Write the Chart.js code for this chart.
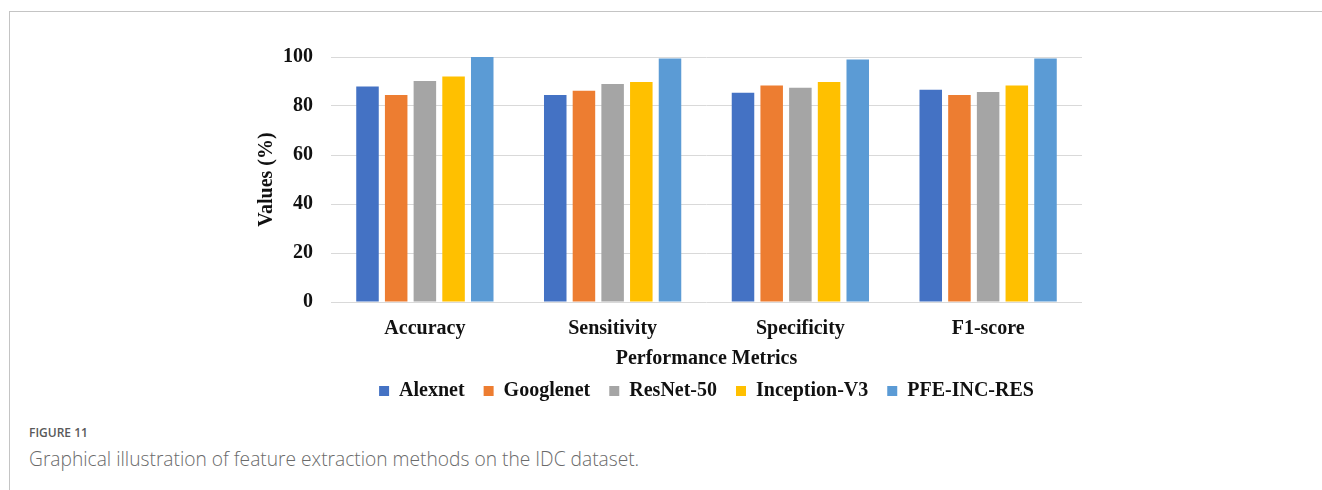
<!DOCTYPE html>
<html>
<head>
<meta charset="utf-8">
<script src="https://cdn.jsdelivr.net/npm/chart.js@4/dist/chart.umd.min.js"></script>
<style>
  html, body { margin: 0; padding: 0; background: #fff; }
  body { width: 1322px; height: 490px; position: relative; overflow: hidden; }
  .frame { position: absolute; left: 9px; top: 11px; right: -2px; bottom: -2px;
           border-top: 1px solid #c4c4c4; border-left: 1px solid #c4c4c4; }
  #chart { position: absolute; left: 0; top: 0; }
  .fig-label { position: absolute; left: 29px; top: 424px; font-family: "Open Sans", sans-serif;
               font-size: 12px; font-weight: 600; color: #595959; }
  .fig-caption { position: absolute; left: 29px; top: 445px; font-family: "Open Sans", sans-serif;
                 font-size: 19.2px; font-weight: 300; color: #6a6a6a; }
</style>
</head>
<body>
<div class="frame"></div>
<canvas id="chart" width="1322" height="420"></canvas>
<div class="fig-label">FIGURE 11</div>
<div class="fig-caption">Graphical illustration of feature extraction methods on the IDC dataset.</div>
<script>
// Performance of feature extraction methods (values in %)
const metrics = ['Accuracy', 'Sensitivity', 'Specificity', 'F1-score'];
const methods = ['Alexnet', 'Googlenet', 'ResNet-50', 'Inception-V3', 'PFE-INC-RES'];
const alexnet    = [88.0, 84.5, 85.4, 86.6];
const googlenet  = [84.5, 86.2, 88.4, 84.5];
const resnet50   = [90.2, 89.0, 87.5, 85.7];
const inception  = [92.0, 89.8, 89.8, 88.4];
const pfeIncRes  = [100.0, 99.4, 99.0, 99.4];
const yTicks = [0, 20, 40, 60, 80, 100];

const seriesValues = [alexnet, googlenet, resnet50, inception, pfeIncRes];
const colors = ['#4472C4', '#ED7D31', '#A5A5A5', '#FFC000', '#5B9BD5'];

const serif = '"Liberation Serif", "Times New Roman", serif';
const ink = '#111111';

new Chart(document.getElementById('chart'), {
  type: 'bar',
  data: {
    labels: metrics,
    datasets: methods.map((name, i) => ({
      label: name,
      data: seriesValues[i],
      backgroundColor: colors[i],
      borderWidth: 0,
      categoryPercentage: 0.764,
      barPercentage: 0.785
    }))
  },
  options: {
    responsive: false,
    animation: false,
    devicePixelRatio: 1,
    layout: { padding: { left: 231, right: 240, top: 57, bottom: 9 } },
    plugins: {
      tooltip: { enabled: false },
      legend: {
        position: 'bottom',
        fullSize: false,
        labels: {
          boxWidth: 10,
          boxHeight: 10,
          padding: 19,
          color: ink,
          font: { family: serif, size: 20, weight: 'bold' }
        }
      }
    },
    scales: {
      x: {
        grid: { display: false, drawTicks: false },
        border: { display: false },
        ticks: {
          padding: 14.6,
          color: ink,
          font: { family: serif, size: 20, weight: 'bold' }
        },
        title: {
          display: true,
          text: 'Performance Metrics',
          color: ink,
          font: { family: serif, size: 20, weight: 'bold', lineHeight: 1 },
          padding: { top: 0, bottom: -7 }
        },
        afterFit: (s) => { s.height = 60; }
      },
      y: {
        min: 0,
        max: 100,
        afterBuildTicks: (s) => { s.ticks = yTicks.map(v => ({ value: v })); },
        grid: { color: '#d9d9d9', lineWidth: 1, drawTicks: false },
        border: { display: false },
        ticks: {
          padding: 18,
          color: ink,
          font: { family: serif, size: 20, weight: 'bold' }
        },
        title: {
          display: true,
          text: 'Values (%)',
          color: ink,
          font: { family: serif, size: 20, weight: 'bold', lineHeight: 1.2 },
          padding: { top: 24, bottom: 0 }
        },
        afterFit: (s) => { s.width = 100; }
      }
    }
  }
});
</script>
</body>
</html>
